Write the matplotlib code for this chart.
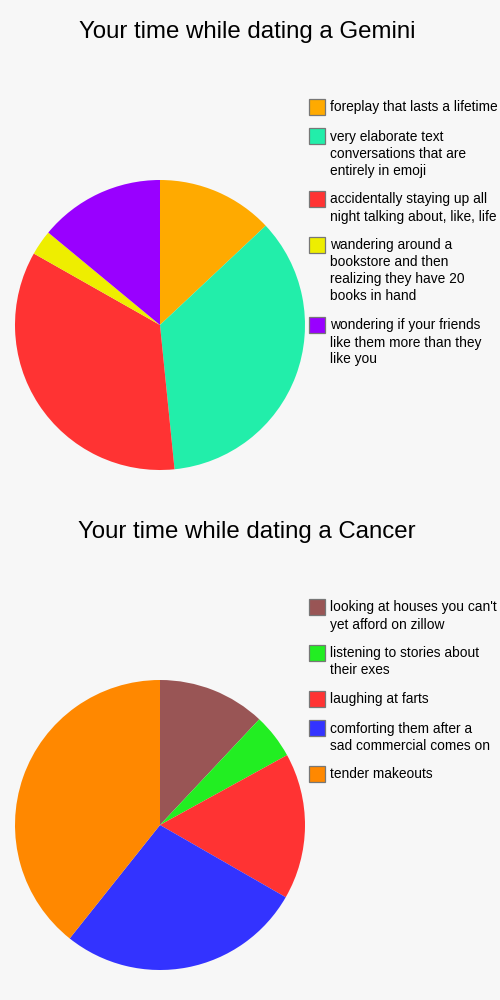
import matplotlib
matplotlib.use("Agg")
import matplotlib.pyplot as plt
from matplotlib.patches import Rectangle

plt.rcParams['font.family'] = ['Liberation Sans', 'DejaVu Sans']

# Chart 1
title1 = "Your time while dating a Gemini"
labels1 = [
    "foreplay that lasts a lifetime",
    "very elaborate text\nconversations that are\nentirely in emoji",
    "accidentally staying up all\nnight talking about, like, life",
    "wandering around a\nbookstore and then\nrealizing they have 20\nbooks in hand",
    "wondering if your friends\nlike them more than they\nlike you",
]
values1 = [13, 35.4, 34.8, 2.8, 14]
colors1 = ["#FFAA00", "#22EEAA", "#FF3333", "#EEEE00", "#9900FF"]

# Chart 2
title2 = "Your time while dating a Cancer"
labels2 = [
    "looking at houses you can't\nyet afford on zillow",
    "listening to stories about\ntheir exes",
    "laughing at farts",
    "comforting them after a\nsad commercial comes on",
    "tender makeouts",
]
values2 = [12, 5, 16.3, 27.4, 39.3]
colors2 = ["#995555", "#22EE22", "#FF3333", "#3333FF", "#FF8800"]

BG = "#F7F7F7"
W, H = 500, 1000
fig = plt.figure(figsize=(W / 100, H / 100), dpi=100, facecolor=BG)

# Overlay axes in pixel coordinates for titles and legends
ov = fig.add_axes([0, 0, 1, 1], zorder=5)
ov.set_xlim(0, W)
ov.set_ylim(H, 0)
ov.axis("off")
ov.patch.set_alpha(0)


def draw_panel(y0, title, labels, values, colors):
    ov.text(247, y0 + 32, title, ha="center", va="center", fontsize=17.3, color="black")
    # pie centered at (160, y0+325), radius 145 px
    cx, cy, r = 160, y0 + 325, 145
    ax = fig.add_axes([(cx - r) / W, 1 - (cy + r) / H, 2 * r / W, 2 * r / H])
    ax.pie(values, colors=colors, startangle=90, counterclock=False, radius=1,
           wedgeprops=dict(linewidth=0))
    ax.set_xlim(-1, 1)
    ax.set_ylim(-1, 1)
    ax.set_aspect("equal")
    ax.axis("off")
    # legend
    line_h = 17
    gap = 12
    y = y0 + 107
    for lab, col in zip(labels, colors):
        ov.add_patch(Rectangle((309, y - 8), 16, 16, facecolor=col,
                               edgecolor="#777777", linewidth=0.9))
        lines = lab.split("\n")
        for k, ln in enumerate(lines):
            ov.text(330, y + k * line_h + 4.5, ln, ha="left", va="baseline",
                    fontsize=9.9, color="black")
        y += len(lines) * line_h + gap


draw_panel(0, title1, labels1, values1, colors1)
draw_panel(500, title2, labels2, values2, colors2)

fig.savefig("out.png", dpi=100, facecolor=BG)
